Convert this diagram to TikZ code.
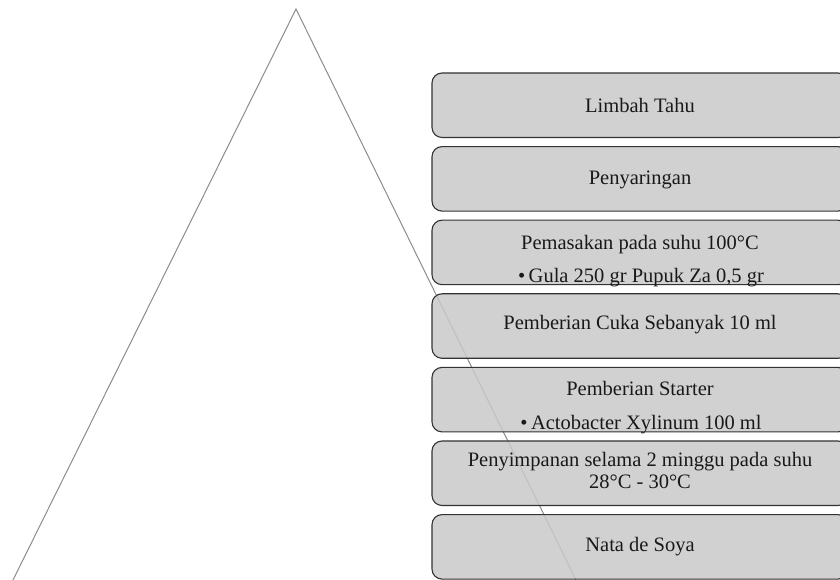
\documentclass[tikz,border=0pt]{standalone}
\usepackage{fontspec}
\setmainfont{Liberation Serif}
\begin{document}
\begin{tikzpicture}[x=1pt,y=1pt,
  stagebox/.style={rectangle, rounded corners=10pt, draw=black!80, line width=1.1pt,
    fill=gray!42, fill opacity=0.85, minimum width=416pt, minimum height=64.5pt, inner sep=0pt},
  stagetext/.style={anchor=base, font=\fontsize{20.5}{22}\selectfont, text=black!90, inner sep=0pt},
  tri/.style={draw=gray!90, line width=1pt}]
\useasboundingbox (0,0) rectangle (840,580);
\clip (0,0) rectangle (840,580);
% triangle outline
\coordinate (apex) at (296,571);
\coordinate (bl) at (13,0);
\coordinate (br) at (576,0);
\draw[tri] (bl) -- (apex) -- (br);
% boxes
\node[stagebox] (b1) at (640,{580-105.25}) {};
\node[stagebox] (b2) at (640,{580-178.85}) {};
\node[stagebox] (b3) at (640,{580-252.45}) {};
\node[stagebox] (b4) at (640,{580-326.05}) {};
\node[stagebox] (b5) at (640,{580-399.65}) {};
\node[stagebox] (b6) at (640,{580-473.25}) {};
\node[stagebox] (b7) at (640,{580-546.85}) {};
% texts
\node[stagetext] (t1) at (640,{580-112.7}) {Limbah Tahu};
\node[stagetext] (t2) at (640,{580-185}) {Penyaringan};
\node[stagetext] (t3a) at (640,{580-249.3}) {Pemasakan pada suhu 100°C};
\node[stagetext] (t3b) at (641,{580-282.7}) {\textbullet\,Gula 250 gr Pupuk Za 0,5 gr};
\node[stagetext] (t4) at (640,{580-330}) {Pemberian Cuka Sebanyak 10 ml};
\node[stagetext] (t5a) at (640,{580-396}) {Pemberian Starter};
\node[stagetext] (t5b) at (641,{580-430}) {\textbullet\,Actobacter Xylinum 100 ml};
\node[stagetext] (t6a) at (640,{580-467}) {Penyimpanan selama 2 minggu pada suhu};
\node[stagetext] (t6b) at (640,{580-489}) {28°C - 30°C};
\node[stagetext] (t7) at (640,{580-552}) {Nata de Soya};
\end{tikzpicture}
\end{document}
